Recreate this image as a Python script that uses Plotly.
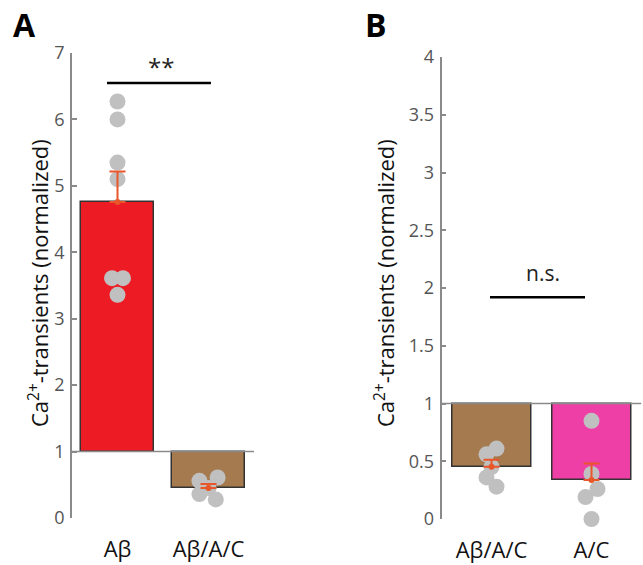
import numpy as np
import plotly.graph_objects as go

# ---------------- data ----------------
cats_a = ["Aβ", "Aβ/A/C"]
cats_b = ["Aβ/A/C", "A/C"]

abeta_pts = [6.27, 6.00, 5.35, 5.10, 3.61, 3.61, 3.36]
abac_pts = [0.61, 0.56, 0.45, 0.36, 0.28]
ac_pts = [0.85, 0.39, 0.26, 0.19, 0.00]

# horizontal jitter of the dots (category units)
abeta_jit = [0.0, 0.0, 0.0, 0.0, -0.06, 0.06, 0.0]
abac_jit_a = [0.10, -0.10, 0.0, -0.10, 0.08]
abac_jit_b = [0.05, -0.05, 0.0, -0.05, 0.05]
ac_jit = [0.0, 0.0, 0.06, -0.06, 0.0]

baseline = 1.0

# ---------------- style ----------------
RED = "#ED1C24"
BROWN = "#A67A4F"
MAGENTA = "#EE3FA6"
DOT = "#C0C0C0"
ERR = "#E8562A"
AXIS = "#8A8A8A"
FONT = "Open Sans"


def mean_sem(v):
    v = np.asarray(v, float)
    return v.mean(), v.std(ddof=1) / np.sqrt(len(v))


fig = go.Figure()


def add_panel(xa, ya, groups, colors, jits, width):
    pos = [1, 2]
    means, sems = [], []
    for g in groups:
        m, s = mean_sem(g)
        means.append(m)
        sems.append(s)
    fig.add_trace(go.Bar(
        x=pos, y=[m - baseline for m in means], base=baseline,
        width=width, marker=dict(color=colors, line=dict(color="#333333", width=1.5)),
        xaxis=xa, yaxis=ya, showlegend=False))
    for p, g, j in zip(pos, groups, jits):
        fig.add_trace(go.Scatter(
            x=[p + d for d in j], y=g, mode="markers",
            marker=dict(color=DOT, size=16, line=dict(width=0)),
            cliponaxis=False, xaxis=xa, yaxis=ya, showlegend=False))
    fig.add_trace(go.Scatter(
        x=pos, y=means, mode="markers",
        marker=dict(color=ERR, size=6),
        error_y=dict(type="data", symmetric=False, array=sems, arrayminus=[0, 0],
                     color=ERR, thickness=2, width=8),
        cliponaxis=False, xaxis=xa, yaxis=ya, showlegend=False))


add_panel("x", "y", [abeta_pts, abac_pts], [RED, BROWN], [abeta_jit, abac_jit_a], 0.8)
add_panel("x2", "y2", [abac_pts, ac_pts], [BROWN, MAGENTA], [abac_jit_b, ac_jit], 0.79)

W, H = 643, 565
xdomA = [72 / W, 254 / W]
xdomB = [441.5 / W, 641.5 / W]
ydomA = [(H - 518) / H, (H - 53) / H]
ydomB = [(H - 519) / H, (H - 57) / H]

xcommon = dict(range=[0.5, 2.5], showline=False, showgrid=False, zeroline=False,
               ticks="", tickvals=[1, 2], tickfont=dict(family=FONT, size=22, color="#111"),
               ticklabelstandoff=16, fixedrange=True, automargin=False)
ycommon = dict(showline=True, linecolor=AXIS, linewidth=1.5, ticks="inside", ticklen=5,
               tickcolor=AXIS, tickwidth=1.5, showgrid=False, zeroline=False,
               tickfont=dict(family=FONT, size=18, color="#555555"), ticklabelstandoff=2,
               automargin=False)

fig.update_layout(
    width=W, height=H, autosize=False,
    margin=dict(l=0, r=0, t=0, b=0, autoexpand=False),
    paper_bgcolor="white", plot_bgcolor="white",
    font=dict(family=FONT),
    bargap=0,
    xaxis=dict(domain=xdomA, ticktext=cats_a, anchor="y", **xcommon),
    yaxis=dict(domain=ydomA, range=[0, 7], tickvals=list(range(8)), anchor="x", **ycommon),
    xaxis2=dict(domain=xdomB, ticktext=cats_b, anchor="y2", **xcommon),
    yaxis2=dict(domain=ydomB, range=[0, 4], tickvals=[0, 0.5, 1, 1.5, 2, 2.5, 3, 3.5, 4],
                ticktext=["0", "0.5", "1", "1.5", "2", "2.5", "3", "3.5", "4"],
                anchor="x2", **ycommon),
)

# baselines at 1
for xr, yr in (("x", "y"), ("x2", "y2")):
    fig.add_shape(type="line", xref=xr, yref=yr, x0=0.5, x1=2.5, y0=baseline, y1=baseline,
                  line=dict(color=AXIS, width=1.5), layer="above")

# significance bars
fig.add_shape(type="line", xref="x", yref="y", x0=0.885, x1=2.027, y0=6.55, y1=6.55,
              line=dict(color="black", width=2.5))
fig.add_annotation(x=1.48, y=6.55, xref="x", yref="y", text="**", showarrow=False,
                   xanchor="center", yanchor="bottom", yshift=-2,
                   font=dict(family=FONT, size=24, color="#222"))
fig.add_shape(type="line", xref="x2", yref="y2", x0=0.985, x1=1.935, y0=1.92, y1=1.92,
              line=dict(color="black", width=2.5))
fig.add_annotation(x=1.51, y=1.92, xref="x2", yref="y2", text="n.s.", showarrow=False,
                   xanchor="center", yanchor="bottom", yshift=8,
                   font=dict(family=FONT, size=21, color="#222"))

# y titles
ytitle = "Ca<sup>2+</sup>-transients (normalized)"
for xc in (38, 384):
    fig.add_annotation(x=xc / W, y=(H - 283) / H, xref="paper", yref="paper", text=ytitle,
                       textangle=-90, showarrow=False, xanchor="center", yanchor="middle",
                       font=dict(family=FONT, size=22, color="#111"))

# panel letters
fig.add_annotation(x=24 / W, y=(H - 24) / H, xref="paper", yref="paper", text="<b>A</b>",
                   showarrow=False, xanchor="center", yanchor="middle",
                   font=dict(family=FONT, size=32, color="black"))
fig.add_annotation(x=376 / W, y=(H - 24) / H, xref="paper", yref="paper", text="<b>B</b>",
                   showarrow=False, xanchor="center", yanchor="middle",
                   font=dict(family=FONT, size=32, color="black"))

fig.write_html("out.html")
